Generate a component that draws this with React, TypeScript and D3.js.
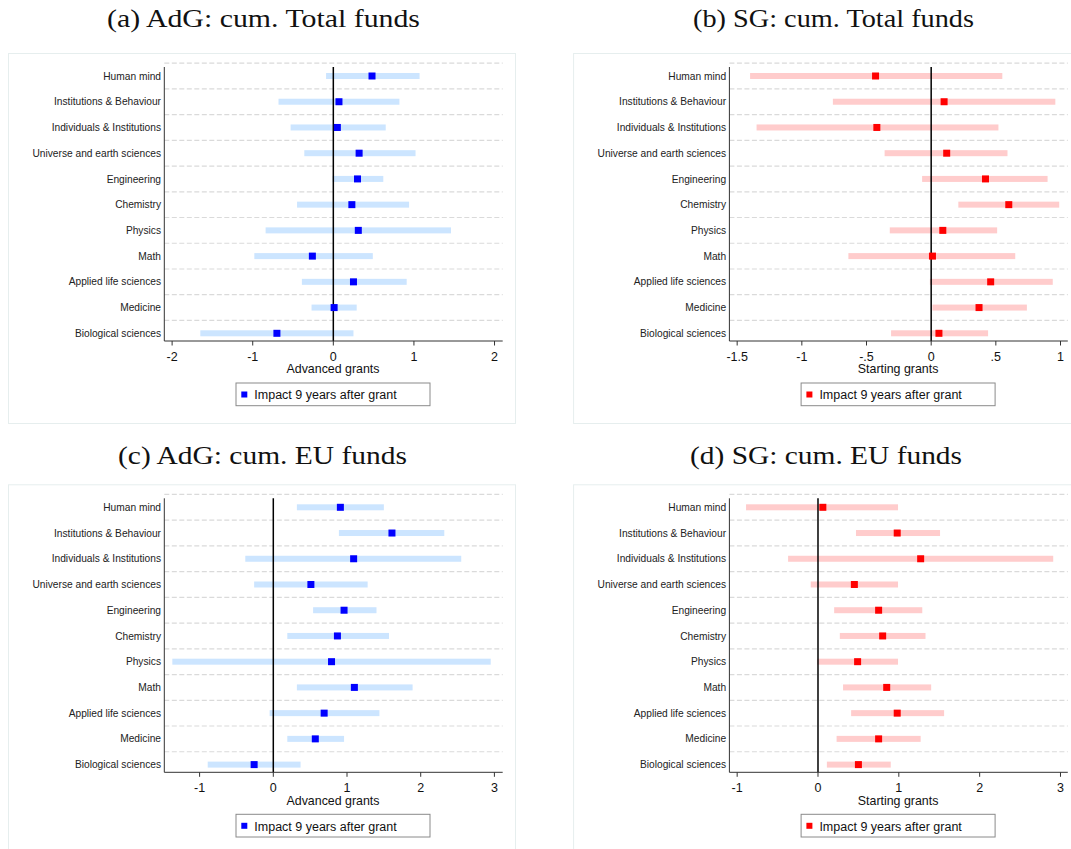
import React from "react";
import * as d3 from "d3";

const categories = [
  "Human mind",
  "Institutions & Behaviour",
  "Individuals & Institutions",
  "Universe and earth sciences",
  "Engineering",
  "Chemistry",
  "Physics",
  "Math",
  "Applied life sciences",
  "Medicine",
  "Biological sciences",
];

// (a) AdG: cum. Total funds
const adgTotalPoint = [0.48, 0.07, 0.05, 0.32, 0.3, 0.23, 0.31, -0.26, 0.25, 0.01, -0.7];
const adgTotalLow = [-0.09, -0.68, -0.53, -0.36, -0.01, -0.45, -0.84, -0.98, -0.39, -0.27, -1.65];
const adgTotalHigh = [1.07, 0.82, 0.65, 1.02, 0.62, 0.94, 1.46, 0.49, 0.91, 0.29, 0.25];

// (b) SG: cum. Total funds
const sgTotalPoint = [-0.43, 0.1, -0.42, 0.12, 0.42, 0.6, 0.09, 0.01, 0.46, 0.37, 0.06];
const sgTotalLow = [-1.4, -0.76, -1.35, -0.36, -0.07, 0.21, -0.32, -0.64, -0.01, 0.01, -0.31];
const sgTotalHigh = [0.55, 0.96, 0.52, 0.59, 0.9, 0.99, 0.51, 0.65, 0.94, 0.74, 0.44];

// (c) AdG: cum. EU funds
const adgEuPoint = [0.91, 1.61, 1.09, 0.51, 0.96, 0.87, 0.79, 1.1, 0.69, 0.57, -0.26];
const adgEuLow = [0.32, 0.89, -0.38, -0.26, 0.54, 0.19, -1.37, 0.32, -0.05, 0.19, -0.89];
const adgEuHigh = [1.5, 2.32, 2.55, 1.28, 1.4, 1.57, 2.95, 1.89, 1.44, 0.96, 0.37];

// (d) SG: cum. EU funds
const sgEuPoint = [0.06, 0.98, 1.27, 0.45, 0.75, 0.8, 0.49, 0.85, 0.98, 0.75, 0.5];
const sgEuLow = [-0.89, 0.47, -0.37, -0.09, 0.2, 0.27, -0.01, 0.31, 0.41, 0.23, 0.11];
const sgEuHigh = [0.99, 1.51, 2.91, 0.99, 1.29, 1.33, 0.99, 1.4, 1.56, 1.27, 0.9];

const ticksA = [-2, -1, 0, 1, 2];
const tickLabelsA = ["-2", "-1", "0", "1", "2"];
const ticksB = [-1.5, -1, -0.5, 0, 0.5, 1];
const tickLabelsB = ["-1.5", "-1", "-.5", "0", ".5", "1"];
const ticksEU = [-1, 0, 1, 2, 3];
const tickLabelsEU = ["-1", "0", "1", "2", "3"];

const legendLabel = "Impact 9 years after grant";

const SANS = "'Liberation Sans', Arial, sans-serif";
const SERIF = "'Liberation Serif', 'Times New Roman', serif";

type PanelProps = {
  dx: number;
  dy: number;
  title: string;
  titleCx: number;
  titleW: number;
  titleY: number;
  domain: [number, number];
  ticks: number[];
  tickLabels: string[];
  point: number[];
  low: number[];
  high: number[];
  ciColor: string;
  ptColor: string;
  xTitle: string;
};

function Panel(p: PanelProps) {
  const plotL = 164.3 + p.dx;
  const plotR = 501.7 + p.dx;
  const axisR = 502.7 + p.dx;
  const axisY = 341 + p.dy;
  const axisTop = 67 + p.dy;
  const x = d3.scaleLinear().domain(p.domain).range([plotL, plotR]);
  const y = d3
    .scalePoint<string>()
    .domain(categories)
    .range([76 + p.dy, 333.3 + p.dy]);
  const step = y.step();
  const cx = (plotL + plotR) / 2;
  const legW = 194;
  const legL = cx - legW / 2;
  return (
    <g>
      {/* panel frame */}
      <rect
        x={8.5 + p.dx}
        y={53.5 + p.dy}
        width={507}
        height={370}
        fill="white"
        stroke="#e6eeee"
        strokeWidth={1}
      />
      <text
        x={p.titleCx}
        y={p.titleY}
        textAnchor="middle"
        fontFamily={SERIF}
        fontSize={25}
        textLength={p.titleW}
        lengthAdjust="spacingAndGlyphs"
        fill="#111"
      >
        {p.title}
      </text>
      {/* grid lines */}
      {categories.map((c) => (
        <line
          key={"g" + c}
          x1={plotL}
          x2={axisR}
          y1={(y(c) as number) - step / 2}
          y2={(y(c) as number) - step / 2}
          stroke="#dadada"
          strokeWidth={1.2}
          strokeDasharray="5,2.5"
        />
      ))}
      {/* CI bars */}
      {categories.map((c, i) => (
        <rect
          key={"ci" + c}
          x={x(p.low[i])}
          y={(y(c) as number) - 3}
          width={x(p.high[i]) - x(p.low[i])}
          height={6}
          fill={p.ciColor}
        />
      ))}
      {/* zero line */}
      <line x1={x(0)} x2={x(0)} y1={axisTop} y2={axisY} stroke="#000" strokeWidth={1.5} />
      {/* points */}
      {categories.map((c, i) => (
        <rect
          key={"pt" + c}
          x={x(p.point[i]) - 3.5}
          y={(y(c) as number) - 3.5}
          width={7}
          height={7}
          fill={p.ptColor}
        />
      ))}
      {/* axes */}
      <line x1={plotL} x2={plotL} y1={axisTop} y2={axisY} stroke="#333" strokeWidth={1} />
      <line x1={plotL} x2={axisR} y1={axisY} y2={axisY} stroke="#333" strokeWidth={1} />
      {categories.map((c) => (
        <text
          key={"l" + c}
          x={plotL - 3.3}
          y={(y(c) as number) + 3.6}
          textAnchor="end"
          fontFamily={SANS}
          fontSize={10.2}
          fill="#222"
        >
          {c}
        </text>
      ))}
      {p.ticks.map((t, i) => (
        <g key={"t" + t}>
          <line x1={x(t)} x2={x(t)} y1={axisY} y2={axisY + 4.5} stroke="#333" strokeWidth={1} />
          <text
            x={x(t)}
            y={360.7 + p.dy}
            textAnchor="middle"
            fontFamily={SANS}
            fontSize={12.5}
            fill="#111"
          >
            {p.tickLabels[i]}
          </text>
        </g>
      ))}
      <text
        x={cx}
        y={373.2 + p.dy}
        textAnchor="middle"
        fontFamily={SANS}
        fontSize={12.4}
        fill="#111"
      >
        {p.xTitle}
      </text>
      {/* legend */}
      <rect
        x={legL}
        y={383 + p.dy}
        width={legW}
        height={22.7}
        fill="white"
        stroke="#8a8a8a"
        strokeWidth={1}
      />
      <rect x={legL + 5.3} y={391.5 + p.dy} width={6} height={6} fill={p.ptColor} />
      <text x={legL + 18.3} y={399.3 + p.dy} fontFamily={SANS} fontSize={12.5} fill="#111">
        {legendLabel}
      </text>
    </g>
  );
}

export default function App() {
  const dx = 565.1;
  const dy = 431.3;
  return (
    <svg
      width={1071}
      height={849}
      style={{ position: "absolute", left: 0, top: 0, display: "block", background: "white" }}
    >
      <rect x={0} y={0} width={1071} height={849} fill="white" />
      <Panel
        dx={0}
        dy={0}
        title="(a) AdG: cum. Total funds"
        titleCx={263.5}
        titleW={313}
        titleY={27}
        domain={[-2.097, 2.089]}
        ticks={ticksA}
        tickLabels={tickLabelsA}
        point={adgTotalPoint}
        low={adgTotalLow}
        high={adgTotalHigh}
        ciColor="#cce5ff"
        ptColor="#0000ff"
        xTitle="Advanced grants"
      />
      <Panel
        dx={dx}
        dy={0}
        title="(b) SG: cum. Total funds"
        titleCx={833.5}
        titleW={281}
        titleY={27}
        domain={[-1.56, 1.0486]}
        ticks={ticksB}
        tickLabels={tickLabelsB}
        point={sgTotalPoint}
        low={sgTotalLow}
        high={sgTotalHigh}
        ciColor="#ffcccc"
        ptColor="#ff0000"
        xTitle="Starting grants"
      />
      <Panel
        dx={0}
        dy={dy}
        title="(c) AdG: cum. EU funds"
        titleCx={262.5}
        titleW={289}
        titleY={464}
        domain={[-1.479, 3.099]}
        ticks={ticksEU}
        tickLabels={tickLabelsEU}
        point={adgEuPoint}
        low={adgEuLow}
        high={adgEuHigh}
        ciColor="#cce5ff"
        ptColor="#0000ff"
        xTitle="Advanced grants"
      />
      <Panel
        dx={dx}
        dy={dy}
        title="(d) SG: cum. EU funds"
        titleCx={826}
        titleW={272}
        titleY={464}
        domain={[-1.096, 3.078]}
        ticks={ticksEU}
        tickLabels={tickLabelsEU}
        point={sgEuPoint}
        low={sgEuLow}
        high={sgEuHigh}
        ciColor="#ffcccc"
        ptColor="#ff0000"
        xTitle="Starting grants"
      />
    </svg>
  );
}
